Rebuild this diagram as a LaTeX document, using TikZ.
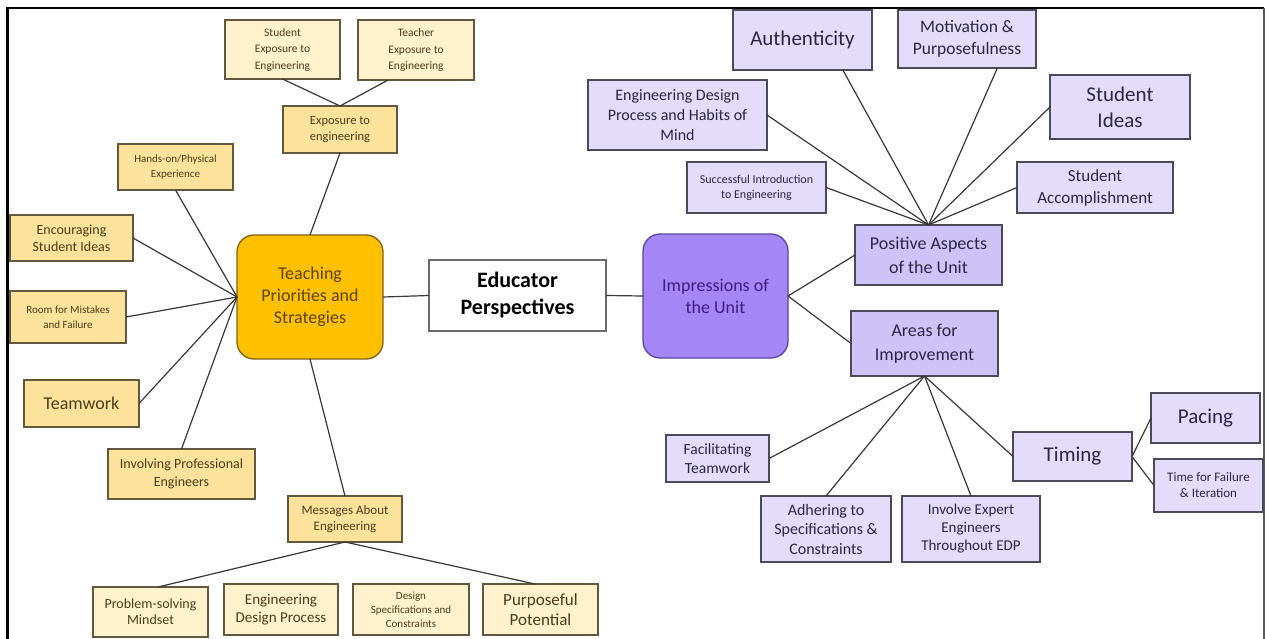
\documentclass[tikz,border=0pt]{standalone}
\usepackage{fontspec}
\setmainfont{Carlito}
\usetikzlibrary{calc}

\definecolor{yPale}{HTML}{FFF2CC}
\definecolor{yMid}{HTML}{FCE29A}
\definecolor{yGold}{HTML}{FFC000}
\definecolor{yBord}{HTML}{62583F}
\definecolor{yText}{HTML}{4A3C1C}
\definecolor{gText}{HTML}{5C4300}
\definecolor{gBord}{HTML}{7E6018}
\definecolor{pMain}{HTML}{A586F6}
\definecolor{pMainBord}{HTML}{5B45A0}
\definecolor{pMainText}{HTML}{3D1F80}
\definecolor{pMid}{HTML}{CEC3F7}
\definecolor{pLight}{HTML}{E3DCFB}
\definecolor{pBord}{HTML}{4A4A58}
\definecolor{pText}{HTML}{2A2644}
\definecolor{eBord}{HTML}{6A6A6A}
\definecolor{lineC}{HTML}{383838}

\newcommand\fs[2]{\fontsize{#1}{#2}\selectfont}
% box from its corners: name, style, x1, y1, x2, y2, text
\newcommand\bx[7]{\node[#2, minimum width={(#5)-(#3)}, minimum height={(#6)-(#4)}]
  (#1) at ({((#3)+(#5))/2},{((#4)+(#6))/2}) {#7};}

\begin{document}
\begin{tikzpicture}[x=1pt,y=-1pt,
  ybox/.style={draw=yBord, fill=yMid, line width=1.3pt, text=yText,
    inner sep=0pt, outer sep=0pt, align=center},
  ypale/.style={ybox, fill=yPale},
  gbox/.style={draw=gBord, fill=yGold, line width=1.3pt, text=gText,
    inner sep=0pt, outer sep=0pt, align=center, rounded corners=17pt},
  ebox/.style={draw=eBord, fill=white, line width=1.2pt, text=black,
    inner sep=0pt, outer sep=0pt, align=center},
  pbox/.style={draw=pBord, fill=pLight, line width=1.3pt, text=pText,
    inner sep=0pt, outer sep=0pt, align=center},
  pmid/.style={pbox, fill=pMid},
  mbox/.style={draw=pMainBord, fill=pMain, line width=1.3pt, text=pMainText,
    inner sep=0pt, outer sep=0pt, align=center, rounded corners=17pt},
  link/.style={draw=lineC, line width=1.2pt}]

\useasboundingbox (0,0) rectangle (1265,639);
\fill[white] (0,0) rectangle (1265,639);

% page frame
\draw[line width=2.6pt, black] (7.5,639) -- (7.5,8) -- (1264,8);
\draw[line width=2pt, black!65] (1263.5,8) -- (1263.5,639);

% ---- left branch: teaching priorities ----
\bx{sexp}{ypale, font=\fs{11.5}{16.5}}{225}{20}{340}{79}{Student\\Exposure to\\Engineering}
\bx{texp}{ypale, font=\fs{11.5}{16.5}}{358}{20}{474}{80}{Teacher\\Exposure to\\Engineering}
\bx{expo}{ybox, font=\fs{12.5}{15.5}}{283}{106}{397}{153}{Exposure to\\engineering}
\bx{hand}{ybox, font=\fs{11}{15}}{118}{144}{233}{190}{Hands-on/Physical\\Experience}
\bx{enc}{ybox, font=\fs{14}{16.5}}{10}{215}{133}{261}{Encouraging\\Student Ideas}
\bx{room}{ybox, font=\fs{11}{15}}{10}{291}{126}{343}{Room for Mistakes\\and Failure}
\bx{team}{ybox, font=\fs{18}{22}}{24}{380}{139}{427}{Teamwork}
\bx{prof}{ybox, font=\fs{14}{18}}{108}{449}{255}{499}{Involving Professional\\Engineers}
\bx{teach}{gbox, font=\fs{18}{22}}{237}{235}{383}{359}{Teaching\\Priorities and\\Strategies}
\bx{msg}{ybox, font=\fs{13}{16}}{288}{496}{402}{542}{Messages About\\Engineering}
\bx{ps}{ypale, font=\fs{14}{16}}{93}{587}{208}{637}{Problem-solving\\Mindset}
\bx{edpr}{ypale, font=\fs{15}{18}}{224}{584}{338}{635}{Engineering\\Design Process}
\bx{dspec}{ypale, font=\fs{11}{14}}{353}{584}{469}{635}{Design\\Specifications and\\Constraints}
\bx{purp}{ypale, font=\fs{17}{20}}{483}{584}{598}{635}{Purposeful\\Potential}

% ---- centre ----
\bx{edu}{ebox, font=\fs{22}{27}\bfseries}{429}{260}{606}{331}{Educator\\Perspectives}
\bx{imp}{mbox, font=\fs{18}{22}}{643}{234}{788}{358}{Impressions of\\the Unit}

% ---- right branch: impressions of the unit ----
\bx{auth}{pbox, font=\fs{21}{25}}{733}{10}{872}{70}{Authenticity}
\bx{motiv}{pbox, font=\fs{17.5}{22}}{898}{10}{1036}{68}{Motivation \&\\Purposefulness}
\bx{habits}{pbox, font=\fs{16}{20}}{588}{80}{767}{150}{Engineering Design\\Process and Habits of\\Mind}
\bx{sideas}{pbox, font=\fs{21}{26}}{1050}{75}{1190}{139}{Student\\Ideas}
\bx{succ}{pbox, font=\fs{12}{15}}{687}{162}{826}{213}{Successful Introduction\\to Engineering}
\bx{sacc}{pbox, font=\fs{17}{22}}{1017}{162}{1173}{213}{Student\\Accomplishment}
\bx{pos}{pmid, font=\fs{18}{24}}{855}{225}{1002}{285}{Positive Aspects\\of the Unit}
\bx{areas}{pmid, font=\fs{18}{24}}{851}{311}{998}{376}{Areas for\\Improvement}
\bx{facil}{pbox, font=\fs{15.5}{19}}{666}{435}{769}{482}{Facilitating\\Teamwork}
\bx{adh}{pbox, font=\fs{16}{19.5}}{761}{496}{891}{562}{Adhering to\\Specifications \&\\Constraints}
\bx{inv}{pbox, font=\fs{15}{18}}{902}{496}{1040}{562}{Involve Expert\\Engineers\\Throughout EDP}
\bx{timing}{pbox, font=\fs{21}{25}}{1013}{432}{1132}{481}{Timing}
\bx{pacing}{pbox, font=\fs{21}{25}}{1151}{393}{1260}{443}{Pacing}
\bx{tff}{pbox, font=\fs{13}{16}}{1154}{459}{1263}{512}{Time for Failure\\\& Iteration}

% ---- connectors ----
\draw[link] (sexp.south) -- (expo.north);
\draw[link] ($(texp.south west)!0.26!(texp.south east)$) -- (expo.north);
\draw[link] (expo.south) -- (teach.north);
\draw[link] (hand.south) -- (teach.west);
\draw[link] (enc.east) -- (teach.west);
\draw[link] (room.east) -- (teach.west);
\draw[link] (team.east) -- (teach.west);
\draw[link] (prof.north) -- (teach.west);
\draw[link] (teach.south) -- (msg.north);
\draw[link] (msg.south) -- ([xshift=7.5pt]ps.north);
\draw[link] (msg.south) -- ([xshift=-5.5pt]purp.north);
\draw[link] (teach.east) -- (edu.west);
\draw[link] (edu.east) -- (imp.west);
\draw[link] (imp.east) -- (pos.west);
\draw[link] (imp.east) -- (areas.west);
\draw[link] ($(auth.south west)!0.79!(auth.south east)$) -- (pos.north);
\draw[link] ($(motiv.south west)!0.72!(motiv.south east)$) -- (pos.north);
\draw[link] (habits.east) -- (pos.north);
\draw[link] (succ.east) -- (pos.north);
\draw[link] (sideas.west) -- (pos.north);
\draw[link] (sacc.west) -- (pos.north);
\draw[link] (areas.south) -- (facil.east);
\draw[link] (areas.south) -- (adh.north);
\draw[link] (areas.south) -- (inv.north);
\draw[link] (areas.south) -- (timing.west);
\draw[link] (timing.east) -- (pacing.west);
\draw[link] (timing.east) -- (tff.west);
\end{tikzpicture}
\end{document}
